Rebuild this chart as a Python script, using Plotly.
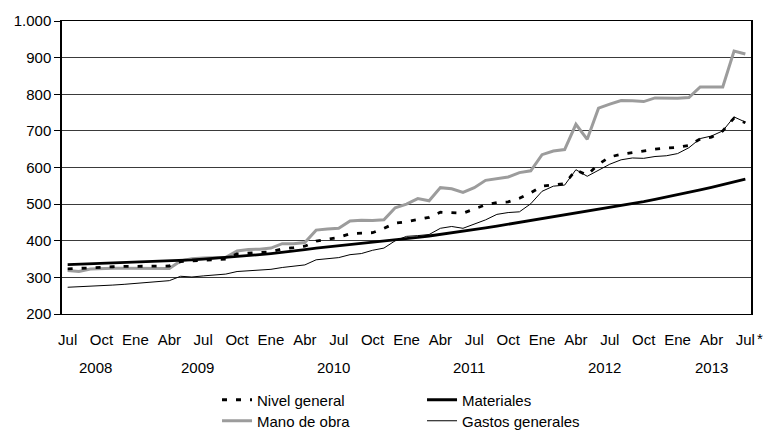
import plotly.graph_objects as go

# Monthly index values, Jul 2008 - Jul 2013 (61 months)
nivel_general = [323, 325, 327, 328, 329, 330, 330, 331, 331, 331,
                 343, 345, 347, 348, 350, 364, 367, 368, 370, 378,
                 381, 385, 399, 404, 409, 419, 420, 422, 434, 448,
                 452, 459, 464, 478, 477, 475, 487, 498, 504, 506,
                 516, 531, 549, 553, 556, 593, 579, 609, 629, 636,
                 641, 645, 650, 653, 655, 660, 678, 683, 700, 735, 722]
materiales = [335, 336, 337, 338, 339, 340, 341, 342, 343, 344,
              346, 348, 350, 352, 354, 357, 360, 362, 365, 368,
              372, 376, 380, 383, 386, 389, 392, 395, 398, 401,
              405, 409, 413, 417, 421, 426, 430, 435, 440, 445,
              450, 455, 460, 465, 470, 476, 481, 487, 492, 497,
              502, 507, 513, 519, 525, 532, 539, 546, 553, 560, 568]
mano_de_obra = [319, 316, 323, 325, 325, 325, 325, 325, 325, 324,
                345, 351, 353, 353, 355, 372, 376, 377, 380, 392,
                392, 395, 429, 432, 434, 454, 456, 455, 457, 490,
                500, 515, 509, 545, 542, 532, 545, 565, 569, 574,
                586, 591, 635, 645, 649, 718, 677, 762, 773, 783,
                782, 780, 790, 789, 789, 791, 820, 820, 820, 918, 910]
gastos_generales = [273, 274, 277, 278, 279, 281, 283, 285, 288, 291,
                    303, 301, 304, 307, 309, 316, 318, 319, 322, 327,
                    330, 334, 348, 352, 354, 362, 365, 374, 380, 400,
                    412, 414, 417, 434, 439, 434, 446, 457, 472, 477,
                    479, 501, 535, 549, 552, 594, 576, 593, 609, 621,
                    626, 625, 630, 632, 638, 654, 679, 686, 700, 738, 724]

months = list(range(len(materiales)))
month_ticks = list(range(0, 61, 3))
month_labels = ["Jul", "Oct", "Ene", "Abr"] * 5 + ["Jul"]
years = ["2008", "2009", "2010", "2011", "2012", "2013"]
year_centers = [2.5, 11.5, 23.5, 35.5, 47.5, 57]
y_ticks = [200, 300, 400, 500, 600, 700, 800, 900, 1000]
y_labels = ["200", "300", "400", "500", "600", "700", "800", "900", "1.000"]

FONT = "Liberation Sans, Arial, sans-serif"
FS = 15

fig = go.Figure()
fig.add_trace(go.Scatter(x=months, y=mano_de_obra, name="Mano de obra",
                         mode="lines", line=dict(color="#9c9c9c", width=3),
                         legend="legend2"))
fig.add_trace(go.Scatter(x=months, y=materiales, name="Materiales",
                         mode="lines", line=dict(color="black", width=2.8),
                         legend="legend", legendrank=2))
fig.add_trace(go.Scatter(x=months, y=nivel_general, name="Nivel general",
                         mode="lines",
                         line=dict(color="black", width=2.8, dash="5px,9px"),
                         legend="legend", legendrank=1))
fig.add_trace(go.Scatter(x=months, y=gastos_generales, name="Gastos generales",
                         mode="lines", line=dict(color="black", width=1),
                         legend="legend2"))

# year labels under the month ticks
for yr, xc in zip(years, year_centers):
    fig.add_annotation(x=xc, y=-0.181, xref="x", yref="paper", text=yr,
                       showarrow=False, yanchor="middle",
                       font=dict(family=FONT, size=FS, color="black"))
fig.add_annotation(x=1.0, y=-0.084, xref="paper", yref="paper", text="*",
                   showarrow=False, xanchor="left", xshift=4,
                   yanchor="middle",
                   font=dict(family=FONT, size=FS, color="black"))

legend_common = dict(orientation="h", xanchor="left", yanchor="middle",
                     xref="paper", yref="container",
                     x=0.225, entrywidth=160, tracegroupgap=0,
                     font=dict(family=FONT, size=FS, color="black"),
                     bgcolor="rgba(0,0,0,0)")

fig.update_layout(
    width=769, height=432,
    margin=dict(l=62, r=18, t=21, b=118),
    paper_bgcolor="white", plot_bgcolor="white",
    font=dict(family=FONT, size=FS, color="black"),
    showlegend=True,
    legend=dict(y=1 - 400 / 432, **legend_common),
    legend2=dict(y=1 - 421 / 432, **legend_common),
    xaxis=dict(range=[-0.5, 60.5], tickmode="array", tickvals=month_ticks,
               ticktext=month_labels, ticks="", ticklabelstandoff=12,
               showgrid=False,
               showline=True, linecolor="black", linewidth=1, mirror=True,
               zeroline=False, tickfont=dict(family=FONT, size=FS)),
    yaxis=dict(range=[200, 1000], tickmode="array", tickvals=y_ticks,
               ticktext=y_labels, ticks="outside", ticklen=6,
               tickcolor="black", showgrid=True, gridcolor="#3a3a3a",
               gridwidth=1, showline=True, linecolor="black", linewidth=1.5,
               mirror=True, zeroline=False,
               tickfont=dict(family=FONT, size=FS)),
)

fig.write_html("out.html")
